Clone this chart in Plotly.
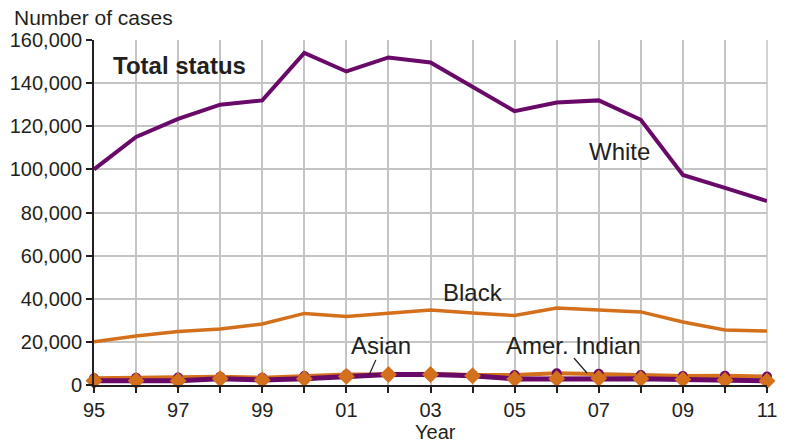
import plotly.graph_objects as go

years = list(range(1995, 2012))
tick_labels = ["95", "", "97", "", "99", "", "01", "", "03", "", "05", "", "07", "", "09", "", "11"]

white = [100000, 115000, 123400, 130000, 132000, 154000, 145400, 151900, 149600, 138200,
         127000, 131000, 132000, 123000, 97400, 91400, 85300]
black = [20000, 22700, 24800, 26000, 28300, 33200, 31800, 33400, 34800, 33400,
         32200, 35700, 34600, 33900, 29200, 25500, 25000]
amer_indian = [3100, 3400, 3500, 3800, 3400, 4200, 4900, 4900, 5100, 4600,
               4600, 5400, 5200, 4600, 4200, 4300, 3900]
asian = [2000, 2000, 2000, 2900, 2300, 2900, 4000, 4900, 4900, 4300,
         2800, 2900, 3100, 2900, 2500, 2200, 1900]

PURPLE = "#690a69"
ORANGE = "#d46f1c"
FONT = "Liberation Sans, Arial, Helvetica, sans-serif"

fig = go.Figure()
fig.add_trace(go.Scatter(x=years, y=white, mode="lines", line=dict(color=PURPLE, width=4),
                         cliponaxis=False, hoverinfo="skip"))
fig.add_trace(go.Scatter(x=years, y=black, mode="lines", line=dict(color=ORANGE, width=3.5),
                         cliponaxis=False, hoverinfo="skip"))
fig.add_trace(go.Scatter(x=years, y=amer_indian, mode="lines+markers",
                         line=dict(color=ORANGE, width=4),
                         marker=dict(symbol="circle", color=PURPLE, size=10),
                         cliponaxis=False, hoverinfo="skip"))
fig.add_trace(go.Scatter(x=years, y=asian, mode="lines+markers",
                         line=dict(color=PURPLE, width=5),
                         marker=dict(symbol="diamond", color=ORANGE, size=13),
                         cliponaxis=False, hoverinfo="skip"))

fig.update_layout(
    width=788, height=442,
    margin=dict(l=94, r=21, t=40, b=57, autoexpand=False),
    paper_bgcolor="white", plot_bgcolor="white",
    showlegend=False,
    font=dict(family=FONT, size=20, color="#231f20"),
    xaxis=dict(range=[1995, 2011], tickvals=years, ticktext=tick_labels,
               showgrid=True, gridcolor="#c4c4c4", gridwidth=1.5,
               showline=True, linecolor="#231f20", linewidth=2,
               ticks="outside", ticklen=6, tickcolor="#231f20", tickwidth=1.5,
               zeroline=False, fixedrange=True, automargin=False),
    yaxis=dict(range=[0, 160000], dtick=20000, tickformat=",",
               showgrid=True, gridcolor="#c4c4c4", gridwidth=1.5,
               showline=True, linecolor="#231f20", linewidth=2,
               ticks="outside", ticklen=6, tickcolor="#231f20", tickwidth=1.5,
               zeroline=False, fixedrange=True, automargin=False),
)

fig.add_shape(type="line", xref="paper", yref="paper", x0=1, x1=1, y0=0, y1=1,
              line=dict(color="#c4c4c4", width=1.5), layer="below")

ann_font = dict(family=FONT, size=24, color="#231f20")
fig.add_annotation(x=1997.04, y=147950, text="<b>Total status</b>", showarrow=False,
                   font=dict(family=FONT, size=24, color="#231f20"))
fig.add_annotation(x=2007.5, y=108500, text="White", showarrow=False, font=ann_font)
fig.add_annotation(x=2004.01, y=43130, text="Black", showarrow=False, font=ann_font)
fig.add_annotation(x=2001.82, y=18090, text="Asian", showarrow=False, font=ann_font)
fig.add_annotation(x=2006.41, y=18090, text="Amer. Indian", showarrow=False, font=ann_font)

fig.add_shape(type="line", x0=2001.70, y0=11590, x1=2001.54, y1=4640,
              line=dict(color="#231f20", width=1.2))
fig.add_shape(type="line", x0=2006.41, y0=12520, x1=2006.72, y1=5570,
              line=dict(color="#231f20", width=1.2))

fig.add_annotation(xref="paper", yref="paper", x=0, y=1, xanchor="left", yanchor="middle",
                   xshift=-82, yshift=23, text="Number of cases", showarrow=False,
                   font=dict(family=FONT, size=21, color="#231f20"))
fig.add_annotation(xref="paper", yref="paper", x=0.5067, y=0, xanchor="center", yanchor="middle",
                   yshift=-47, text="Year", showarrow=False,
                   font=dict(family=FONT, size=20, color="#231f20"))

fig.write_html("out.html", config={"displayModeBar": False},
               post_script="document.body.style.margin='0';document.body.style.overflow='hidden';")
